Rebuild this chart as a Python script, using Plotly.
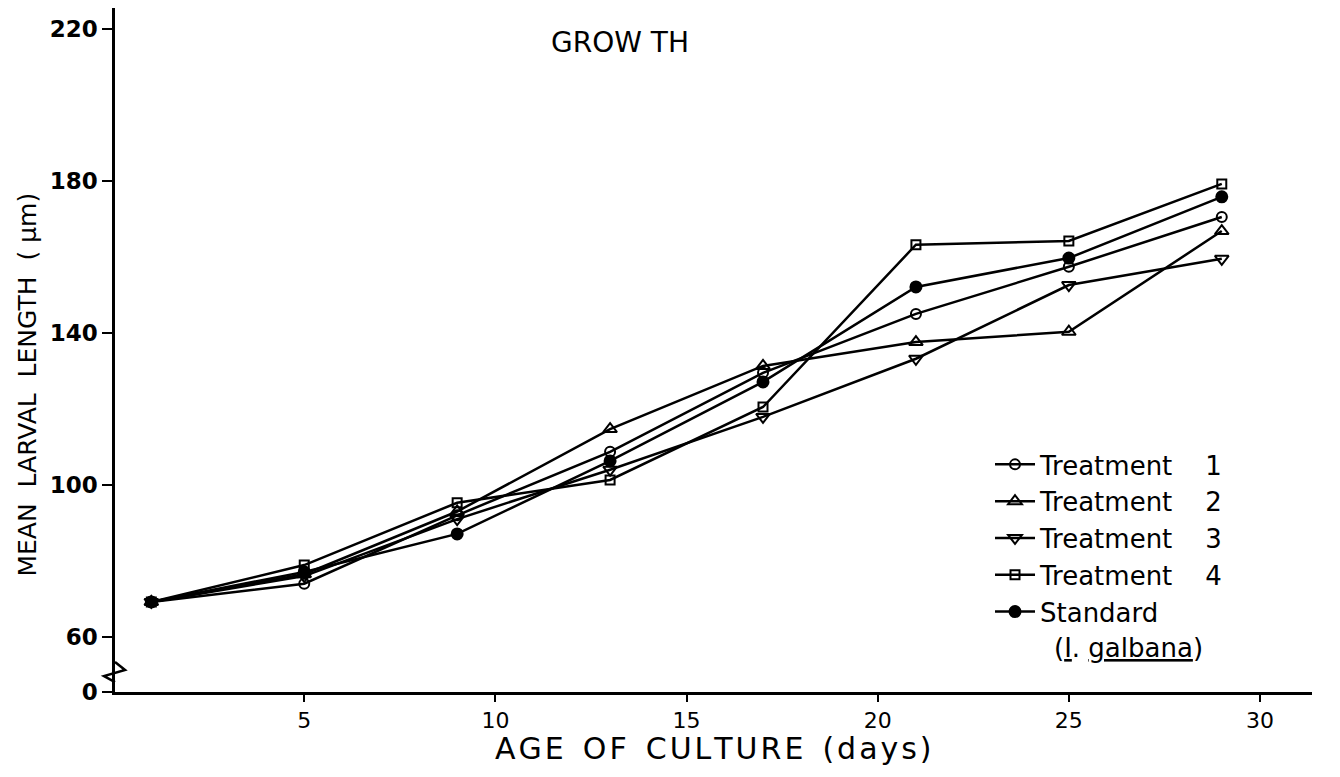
import plotly.graph_objects as go

days = [1, 5, 9, 13, 17, 21, 25, 29]
treatment1 = [69.2, 74.0, 92.0, 108.7, 129.5, 145.0, 157.4, 170.5]
treatment2 = [69.2, 76.5, 93.0, 114.7, 131.3, 137.6, 140.3, 166.8]
treatment3 = [69.2, 76.0, 91.0, 104.0, 117.9, 133.2, 152.6, 159.5]
treatment4 = [69.2, 78.9, 95.3, 101.3, 120.5, 163.2, 164.2, 179.2]
standard = [69.2, 77.1, 87.1, 106.3, 127.1, 152.1, 159.7, 175.8]

NB = "\u00a0"
series_names = [f"Treatment{NB*4}1", f"Treatment{NB*4}2",
                f"Treatment{NB*4}3", f"Treatment{NB*4}4", "Standard"]
series_values = [treatment1, treatment2, treatment3, treatment4, standard]
symbols = ["circle-open", "triangle-up-open", "triangle-down-open", "square-open", "circle"]
sizes = [10, 12, 12, 9, 11]

y_tick_vals = [45.5, 60, 100, 140, 180, 220]
y_tick_text = ["0", "60", "100", "140", "180", "220"]
x_tick_vals = [5, 10, 15, 20, 25, 30]

FONT = "DejaVu Sans"
HS = "\u200a"


def spaced(s):
    return HS.join(list(s))


fig = go.Figure()
for i, (name, vals, sym, sz) in enumerate(zip(series_names, series_values, symbols, sizes)):
    fig.add_trace(go.Scatter(
        x=days, y=vals, name=name, mode="lines+markers",
        line=dict(color="black", width=2.5),
        marker=dict(symbol=sym, size=sz, color="black",
                    line=dict(color="black", width=2)),
        legendgroup=f"g{i}",
    ))

fig.update_layout(
    width=1340, height=777,
    margin=dict(l=107, r=36, t=0, b=93),
    paper_bgcolor="white", plot_bgcolor="white",
    font=dict(family=FONT, color="black"),
    xaxis=dict(range=[0.05, 31.36], tickvals=x_tick_vals, showline=True,
               linecolor="black", linewidth=2.5, ticks="outside", ticklen=7,
               tickwidth=2, tickcolor="black", showgrid=False, zeroline=False,
               tickfont=dict(size=22, family=FONT)),
    yaxis=dict(range=[45.5, 225.5], tickvals=y_tick_vals, ticktext=y_tick_text,
               showline=True, linecolor="black", linewidth=2.5, ticks="outside",
               ticklen=10, tickwidth=2, tickcolor="black", showgrid=False,
               zeroline=False, tickfont=dict(size=23, family=FONT, weight="bold")),
    legend=dict(x=0.731, y=0.367, xanchor="left", yanchor="top",
                font=dict(size=26, family=FONT), traceorder="grouped",
                tracegroupgap=0, bgcolor="rgba(0,0,0,0)", itemwidth=40),
    showlegend=True,
)

fig.add_annotation(text="GROW" + NB + "TH", xref="paper", yref="paper", x=0.4219, y=0.950,
                   showarrow=False, font=dict(size=28, family=FONT),
                   xanchor="center", yanchor="middle")
fig.add_annotation(text="MEAN" + NB + " LARVAL" + NB + " LENGTH" + NB + " (" + NB + "\u03bcm)",
                   xref="paper", yref="paper",
                   x=-0.0730, y=0.449, textangle=-90, showarrow=False,
                   font=dict(size=25, family=FONT), xanchor="center", yanchor="middle")
fig.add_annotation(text=spaced("AGE") + NB + " " + spaced("OF") + NB + " " + spaced("CULTURE")
                   + NB + " " + spaced("(days)"),
                   xref="paper", yref="paper",
                   x=0.5004, y=-0.0819, showarrow=False,
                   font=dict(size=30, family=FONT), xanchor="center", yanchor="middle")
fig.add_annotation(text="(<u>I</u>." + NB + "<u>galbana</u>)", xref="paper", yref="paper",
                   x=0.783, y=0.0643, showarrow=False,
                   font=dict(size=26, family=FONT), xanchor="left", yanchor="middle")

# axis break zigzag on the y axis
fig.add_shape(type="path", xref="paper", yref="y",
              path="M 0,53.4 L 0.0084,51.3 L -0.0092,49.7 L 0,48.1",
              line=dict(color="black", width=2.5))

fig.write_html("out.html")
